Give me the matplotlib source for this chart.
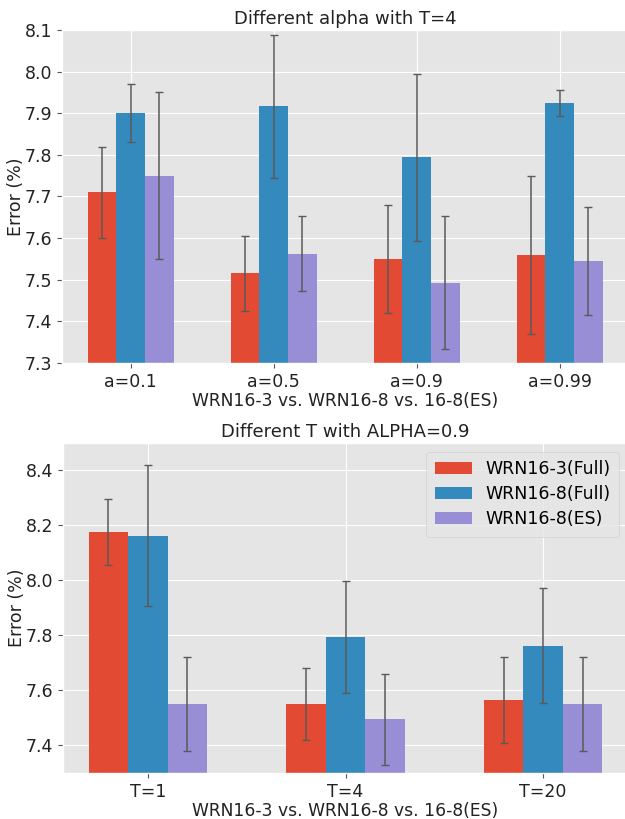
import matplotlib
matplotlib.use("Agg")
import matplotlib.pyplot as plt
import numpy as np

plt.style.use("ggplot")

labels = ["WRN16-3(Full)", "WRN16-8(Full)", "WRN16-8(ES)"]
colors = ["#E24A33", "#348ABD", "#988ED5"]

# top: different alpha, T=4
alpha_ticks = ["a=0.1", "a=0.5", "a=0.9", "a=0.99"]
alpha_mean = [
    [7.71, 7.516, 7.55, 7.56],    # WRN16-3 full
    [7.90, 7.917, 7.794, 7.925],  # WRN16-8 full
    [7.75, 7.563, 7.493, 7.545],  # WRN16-8 ES
]
alpha_err = [
    [0.11, 0.09, 0.13, 0.19],
    [0.07, 0.172, 0.20, 0.032],
    [0.20, 0.09, 0.16, 0.13],
]

# bottom: different T, alpha=0.9
t_ticks = ["T=1", "T=4", "T=20"]
t_mean = [
    [8.178, 7.551, 7.566],
    [8.163, 7.795, 7.762],
    [7.551, 7.495, 7.551],
]
t_err = [
    [0.12, 0.13, 0.156],
    [0.257, 0.204, 0.209],
    [0.17, 0.165, 0.17],
]

fig = plt.figure(figsize=(6.25, 8.19), dpi=100)
ax1 = fig.add_axes([0.0992, 0.5568, 0.906, 0.4066])
ax2 = fig.add_axes([0.1008, 0.0562, 0.904, 0.4029])

w = 0.2
ekw = dict(ecolor="#5a5a5a", elinewidth=1.1, capsize=2.8, capthick=1.0)


def draw(ax, ticks, means, errs, title, ylim, yticks):
    x = np.arange(len(ticks))
    for i in range(3):
        ax.bar(x + (i - 1) * w, means[i], w, yerr=errs[i], color=colors[i],
               label=labels[i], error_kw=ekw)
    ax.set_xticks(x)
    ax.set_xticklabels(ticks)
    ax.set_ylim(*ylim)
    ax.set_yticks(yticks)
    ax.set_title(title, fontsize=13, color="#222222", pad=4)
    ax.set_xlabel("WRN16-3 vs. WRN16-8 vs. 16-8(ES)", fontsize=12.3,
                  color="#222222", labelpad=1)
    ax.set_ylabel("Error (%)", fontsize=12.5, color="#222222", labelpad=0)
    ax.tick_params(axis="both", labelsize=12.5, labelcolor="#222222")


draw(ax1, alpha_ticks, alpha_mean, alpha_err, "Different alpha with T=4",
     (7.3, 8.1), np.arange(7.3, 8.11, 0.1))
ax1.set_yticklabels(["%.1f" % v for v in np.arange(7.3, 8.11, 0.1)])

draw(ax2, t_ticks, t_mean, t_err, "Different T with ALPHA=0.9",
     (7.3, 8.5), [7.4, 7.6, 7.8, 8.0, 8.2, 8.4])
ax2.legend(loc="upper right", fontsize=12.5, borderpad=0.5,
           handlelength=2.1, labelspacing=0.4)

fig.savefig("out.png", dpi=100)
